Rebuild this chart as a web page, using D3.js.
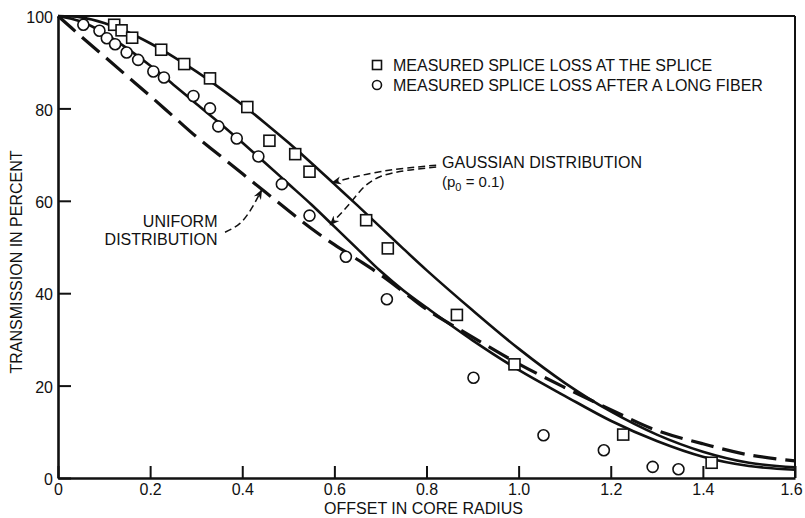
<!DOCTYPE html>
<html>
<head>
<meta charset="utf-8">
<script src="https://cdn.jsdelivr.net/npm/d3@7"></script>
<style>
  html, body { margin: 0; padding: 0; background: #fff; }
  svg { display: block; font-family: "Liberation Sans", Arial, Helvetica, sans-serif; }
</style>
</head>
<body>
<div id="chart"></div>
<script>
// Splice transmission vs. lateral offset (offset in units of core radius)
const X_TICKS = [0, 0.2, 0.4, 0.6, 0.8, 1.0, 1.2, 1.4, 1.6];
const Y_TICKS = [0, 20, 40, 60, 80, 100];

// theory curves
const gaussSplice = [
  [0, 100], [0.05, 99.7], [0.1, 98.5], [0.15, 96.6], [0.2, 94.1], [0.25, 91.2],
  [0.3, 88.0], [0.35, 84.5], [0.4, 80.8], [0.45, 76.8], [0.5, 72.6], [0.55, 68.2],
  [0.6, 63.6], [0.65, 59.0], [0.7, 54.3], [0.75, 49.6], [0.8, 45.0], [0.9, 36.3],
  [1.0, 28.0], [1.1, 20.6], [1.2, 14.4], [1.3, 9.4], [1.4, 5.7], [1.5, 3.3], [1.6, 2.3]
];
const gaussFiber = [
  [0, 100], [0.05, 98.8], [0.1, 96.3], [0.15, 93.0], [0.2, 89.3], [0.25, 85.2],
  [0.3, 81.0], [0.35, 76.9], [0.4, 72.6], [0.45, 68.2], [0.5, 63.7], [0.55, 59.2],
  [0.6, 54.4], [0.65, 49.6], [0.7, 44.8], [0.75, 40.6], [0.8, 36.9], [0.9, 29.8],
  [1.0, 23.4], [1.1, 17.8], [1.2, 12.4], [1.3, 8.0], [1.4, 4.6], [1.5, 2.6], [1.6, 1.8]
];
const uniform = [
  [0, 100], [0.05, 95.6], [0.1, 91.3], [0.15, 87.0], [0.2, 82.7], [0.25, 78.3],
  [0.3, 73.9], [0.35, 69.9], [0.4, 65.9], [0.45, 61.9], [0.5, 57.9], [0.55, 54.0],
  [0.6, 50.5], [0.65, 47.3], [0.7, 44.0], [0.75, 40.3], [0.8, 36.5], [0.9, 30.5],
  [1.0, 24.7], [1.1, 19.6], [1.2, 14.8], [1.3, 10.3], [1.4, 7.4], [1.5, 5.0], [1.6, 3.7]
];

// measured points
const atSplice = [
  [0.122, 98.1], [0.138, 96.9], [0.161, 95.3], [0.224, 92.7], [0.274, 89.6],
  [0.330, 86.5], [0.411, 80.3], [0.459, 73.0], [0.515, 70.1], [0.546, 66.3],
  [0.669, 55.8], [0.716, 49.7], [0.866, 35.3], [0.991, 24.6], [1.227, 9.4], [1.419, 3.3]
];
const afterFiber = [
  [0.055, 98.1], [0.090, 96.8], [0.106, 95.2], [0.124, 93.9], [0.149, 92.1],
  [0.174, 90.5], [0.207, 88.0], [0.230, 86.7], [0.294, 82.7], [0.330, 80.0],
  [0.348, 76.1], [0.388, 73.5], [0.435, 69.6], [0.486, 63.6], [0.546, 56.8],
  [0.625, 47.9], [0.714, 38.7], [0.902, 21.7], [1.054, 9.25], [1.185, 6.0],
  [1.291, 2.4], [1.347, 1.9]
];

const LEGEND = ['MEASURED SPLICE LOSS AT THE SPLICE', 'MEASURED SPLICE LOSS AFTER A LONG FIBER'];

// annotation leader lines (data units)
const arrowGaussUpper = [[0.821, 67.7], [0.699, 66.3], [0.595, 63.9]];
const arrowGaussLower = [[0.821, 67.3], [0.699, 65.2], [0.640, 60.2], [0.591, 54.8]];
const arrowUniform = [[0.3626, 53.2], [0.395, 55.1], [0.4205, 58.4], [0.442, 62.3]];

const MARGIN = { top: 16, right: 10, bottom: 40, left: 58 };
const width = 805;
const height = 518;
const innerW = width - MARGIN.left - MARGIN.right;
const innerH = height - MARGIN.top - MARGIN.bottom;
const INK = '#111';

const svg = d3.select('#chart').append('svg')
  .attr('width', width)
  .attr('height', height);

svg.append('defs').append('marker')
  .attr('id', 'head')
  .attr('viewBox', '0 0 10 10')
  .attr('refX', 9).attr('refY', 5)
  .attr('markerWidth', 10).attr('markerHeight', 10)
  .attr('markerUnits', 'userSpaceOnUse')
  .attr('orient', 'auto')
  .append('path')
  .attr('d', 'M0,1 L10,5 L0,9 L3,5 Z')
  .attr('fill', INK);

const g = svg.append('g').attr('transform', `translate(${MARGIN.left},${MARGIN.top})`);

const x = d3.scaleLinear().domain([0, 1.6]).range([0, innerW]);
const y = d3.scaleLinear().domain([0, 100]).range([innerH, 0]);

// frame: top and right edges
g.append('line').attr('x1', 0).attr('x2', innerW).attr('y1', 0).attr('y2', 0)
  .attr('stroke', INK).attr('stroke-width', 2);
g.append('line').attr('x1', innerW).attr('x2', innerW).attr('y1', 0).attr('y2', innerH)
  .attr('stroke', INK).attr('stroke-width', 2);

const xAxis = g.append('g')
  .attr('transform', `translate(0,${innerH})`)
  .call(d3.axisBottom(x).tickValues(X_TICKS).tickSizeInner(-12).tickSizeOuter(0).tickPadding(6)
    .tickFormat(d => d === 0 ? '0' : d3.format('.1f')(d)));

const yAxis = g.append('g')
  .call(d3.axisLeft(y).tickValues(Y_TICKS).tickSizeInner(-13).tickSizeOuter(0).tickPadding(5));

[xAxis, yAxis].forEach(a => {
  a.select('.domain').attr('stroke', INK).attr('stroke-width', 2.6);
  a.selectAll('.tick line').attr('stroke', INK).attr('stroke-width', 2);
  a.selectAll('.tick text').attr('fill', INK).attr('font-size', 16).attr('font-family', null);
});
yAxis.selectAll('.tick text').attr('dy', '0.42em');
// last label sits against the page edge
xAxis.selectAll('.tick text').filter(d => d === 1.6).attr('dx', -4);

// axis titles
svg.append('text')
  .attr('x', MARGIN.left + x(0.8) - 3)
  .attr('y', 514)
  .attr('text-anchor', 'middle')
  .attr('font-size', 16)
  .attr('fill', INK)
  .text('OFFSET IN CORE RADIUS');

svg.append('text')
  .attr('transform', `translate(22,${MARGIN.top + y(50) + 15}) rotate(-90)`)
  .attr('text-anchor', 'middle')
  .attr('font-size', 16)
  .attr('fill', INK)
  .text('TRANSMISSION IN PERCENT');

// curves
const line = d3.line()
  .x(d => x(d[0]))
  .y(d => y(d[1]))
  .curve(d3.curveCatmullRom.alpha(0.5));

g.append('path').datum(uniform)
  .attr('d', line).attr('fill', 'none')
  .attr('stroke', INK).attr('stroke-width', 3.2)
  .attr('stroke-dasharray', '23,9');

[gaussSplice, gaussFiber].forEach(s => {
  g.append('path').datum(s)
    .attr('d', line).attr('fill', 'none')
    .attr('stroke', INK).attr('stroke-width', 2.6);
});

// markers
const SQ = 11;
g.selectAll('rect.sq').data(atSplice).enter().append('rect')
  .attr('class', 'sq')
  .attr('x', d => x(d[0]) - SQ / 2)
  .attr('y', d => y(d[1]) - SQ / 2)
  .attr('width', SQ).attr('height', SQ)
  .attr('fill', '#fff').attr('stroke', INK).attr('stroke-width', 1.6);

g.selectAll('circle.ci').data(afterFiber).enter().append('circle')
  .attr('class', 'ci')
  .attr('cx', d => x(d[0]))
  .attr('cy', d => y(d[1]))
  .attr('r', 5.5)
  .attr('fill', '#fff').attr('stroke', INK).attr('stroke-width', 1.6);

// leader arrows
const leader = d3.line()
  .x(d => x(d[0]))
  .y(d => y(d[1]))
  .curve(d3.curveNatural);

[arrowGaussUpper, arrowGaussLower, arrowUniform].forEach(a => {
  g.append('path').datum(a)
    .attr('d', leader).attr('fill', 'none')
    .attr('stroke', INK).attr('stroke-width', 1.5)
    .attr('stroke-dasharray', '7,4')
    .attr('marker-end', 'url(#head)');
});

// annotation labels
g.append('text')
  .attr('x', x(0.8337)).attr('y', y(67.1))
  .attr('font-size', 16).attr('fill', INK)
  .text('GAUSSIAN DISTRIBUTION');

const p0 = g.append('text')
  .attr('x', x(0.8337)).attr('y', y(62.95))
  .attr('font-size', 15).attr('fill', INK);
p0.append('tspan').text('(p');
p0.append('tspan').attr('font-size', 11).attr('dy', 4).text('0');
p0.append('tspan').attr('dy', -4).text(' = 0.1)');

g.append('text')
  .attr('x', x(0.3463)).attr('y', y(54.4))
  .attr('text-anchor', 'end')
  .attr('font-size', 16).attr('fill', INK)
  .text('UNIFORM');
g.append('text')
  .attr('x', x(0.3463)).attr('y', y(50.4))
  .attr('text-anchor', 'end')
  .attr('font-size', 16).attr('fill', INK)
  .text('DISTRIBUTION');

// legend
const legendG = svg.append('g').attr('transform', 'translate(377,65)');
legendG.append('rect')
  .attr('x', -4.5).attr('y', -4.5).attr('width', 9).attr('height', 9)
  .attr('fill', '#fff').attr('stroke', INK).attr('stroke-width', 1.6);
legendG.append('circle')
  .attr('cx', 0).attr('cy', 20).attr('r', 4.5)
  .attr('fill', '#fff').attr('stroke', INK).attr('stroke-width', 1.6);
LEGEND.forEach((t, i) => {
  legendG.append('text')
    .attr('x', 16).attr('y', 5.5 + i * 20)
    .attr('font-size', 16).attr('fill', INK)
    .text(t);
});
</script>
</body>
</html>
